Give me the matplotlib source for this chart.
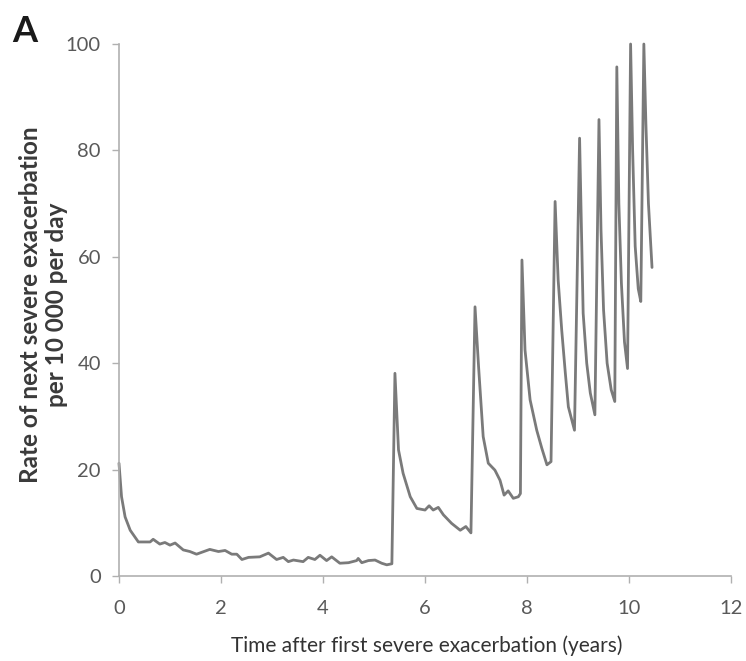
import matplotlib
matplotlib.use("Agg")
import matplotlib.pyplot as plt

plt.rcParams['font.family'] = ['Lato', 'DejaVu Sans']

# Time after first severe exacerbation (years)
years = [
    0.00, 0.05, 0.12, 0.22, 0.38, 0.61, 0.67, 0.80, 0.90, 1.00, 1.10, 1.26, 1.39,
    1.52, 1.78, 1.95, 2.08, 2.21, 2.31, 2.41, 2.54, 2.76, 2.93, 3.09, 3.22, 3.32,
    3.42, 3.61, 3.71, 3.84, 3.94, 4.07, 4.17, 4.33, 4.50, 4.66, 4.69, 4.76, 4.89,
    5.02, 5.15, 5.25, 5.35,
    5.41, 5.48, 5.57, 5.71, 5.84, 6.00, 6.08, 6.16, 6.26, 6.36, 6.52, 6.69, 6.80, 6.90,
    6.98, 7.05, 7.14, 7.24, 7.37, 7.47, 7.55, 7.63, 7.73, 7.83, 7.87,
    7.90, 7.96, 8.06, 8.19, 8.29, 8.39, 8.47,
    8.55, 8.61, 8.68, 8.75, 8.81, 8.93,
    9.03, 9.10, 9.17, 9.24, 9.33,
    9.41, 9.45, 9.50, 9.57, 9.65, 9.72,
    9.76, 9.80, 9.85, 9.91, 9.97,
    10.03, 10.07, 10.12, 10.18, 10.23,
    10.29, 10.33, 10.38, 10.45,
]

# Rate of next severe exacerbation per 10 000 per day
rate = [
    21.2, 14.9, 11.1, 8.6, 6.4, 6.4, 6.9, 6.0, 6.3, 5.8, 6.2, 4.9, 4.6,
    4.1, 5.0, 4.6, 4.8, 4.1, 4.1, 3.1, 3.5, 3.6, 4.3, 3.1, 3.5, 2.7,
    3.0, 2.7, 3.5, 3.1, 3.9, 2.9, 3.6, 2.4, 2.5, 2.9, 3.3, 2.5, 2.9,
    3.0, 2.4, 2.1, 2.3,
    38.1, 23.7, 19.3, 14.9, 12.7, 12.4, 13.2, 12.4, 12.9, 11.5, 9.9, 8.6, 9.3, 8.1,
    50.6, 39.3, 26.2, 21.2, 19.9, 18.0, 15.2, 16.0, 14.6, 14.9, 15.5,
    59.4, 42.5, 33.1, 27.4, 24.0, 20.9, 21.5,
    70.4, 55.6, 46.2, 38.2, 31.8, 27.4,
    82.3, 49.4, 40.0, 34.4, 30.3,
    85.8, 65.0, 50.0, 40.0, 35.0, 32.8,
    95.7, 70.0, 55.0, 44.0, 39.0,
    100.0, 80.0, 62.0, 54.0, 51.6,
    100.0, 85.0, 70.0, 58.0,
]

x_ticks = [0, 2, 4, 6, 8, 10, 12]
y_ticks = [0, 20, 40, 60, 80, 100]

fig = plt.figure(figsize=(7.46, 6.61), dpi=100)
ax = fig.add_axes([0.1595, 0.1286, 0.8205, 0.8048])

ax.plot(years, rate, color='#7a7a7a', linewidth=2.0, solid_joinstyle='round',
        solid_capstyle='round', clip_on=False)

ax.set_xlim(0, 12)
ax.set_ylim(0, 100)
ax.set_xticks(x_ticks)
ax.set_yticks(y_ticks)

for s in ['top', 'right']:
    ax.spines[s].set_visible(False)
for s in ['left', 'bottom']:
    ax.spines[s].set_color('#b0b0b0')
    ax.spines[s].set_linewidth(1.2)

ax.tick_params(axis='both', colors='#b0b0b0', labelcolor='#595959',
               labelsize=14.5, length=5, width=1.0, direction='out')
ax.tick_params(axis='y', pad=8)
ax.tick_params(axis='x', pad=12)

ax.set_xlabel('Time after first severe exacerbation (years)', fontsize=15,
              color='#333333')
ax.xaxis.set_label_coords(0.502, -0.112)
ax.set_ylabel('Rate of next severe exacerbation\nper 10 000 per day', fontsize=17.5,
              fontweight='bold', color='#3a3a3a', linespacing=1.15)
ax.yaxis.set_label_coords(-0.083, 0.51)

fig.text(0.016, 0.936, 'A', fontsize=26, fontweight='bold', color='#1a1a1a')

fig.savefig('out.png', dpi=100)
